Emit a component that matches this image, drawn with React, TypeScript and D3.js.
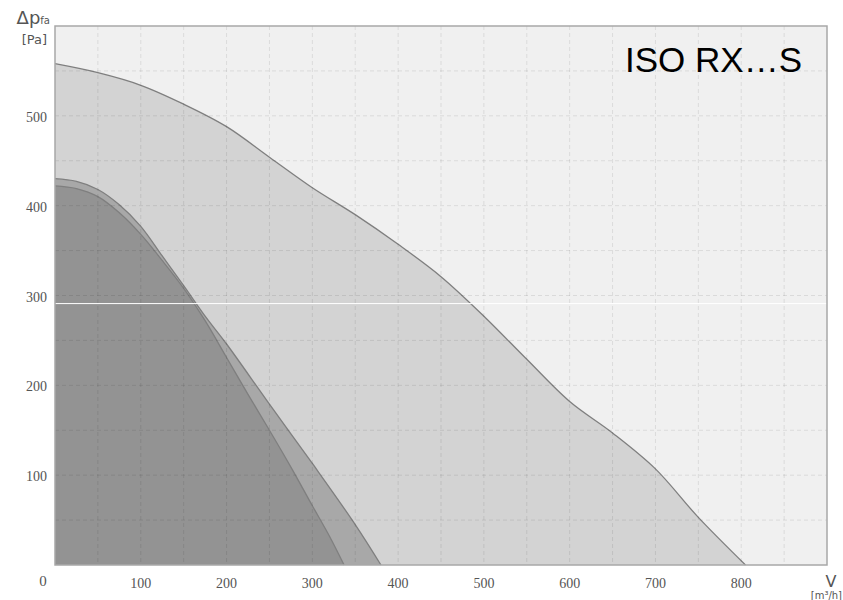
import React from 'react'
import * as d3 from 'd3'

// fan curves (flow m3/h, pressure Pa)
const curveAx = [0, 50, 100, 150, 200, 250, 300, 350, 400, 450, 500, 550, 600, 650, 700, 750, 805]
const curveAy = [558, 548, 534, 513, 488, 454, 420, 390, 357, 321, 277, 229, 182, 147, 107, 53, 0]

const curveBx = [0, 25, 50, 75, 100, 125, 150, 175, 200, 250, 300, 350, 380]
const curveBy = [430, 427, 418, 401, 377, 344, 311, 277, 246, 179, 113, 45, 0]

const curveCx = [0, 25, 50, 75, 100, 125, 150, 175, 200, 225, 250, 275, 300, 320, 337]
const curveCy = [422, 419, 410, 392, 368, 339, 308, 272, 231, 190, 150, 109, 66, 32, 0]

const xTicks = [100, 200, 300, 400, 500, 600, 700, 800]
const yTicks = [100, 200, 300, 400, 500]
const xGrid = d3.range(50, 900, 50)
const yGrid = d3.range(50, 600, 50)

const W = 843
const H = 600
const margin = { top: 26, right: 16, bottom: 35, left: 55 }

export default function App() {
  const x = d3.scaleLinear().domain([0, 900]).range([margin.left, W - margin.right])
  const y = d3.scaleLinear().domain([0, 600]).range([H - margin.bottom, margin.top])

  const area = d3.area<[number, number]>()
    .x(d => x(d[0]))
    .y0(y(0))
    .y1(d => y(d[1]))
    .curve(d3.curveCatmullRom)
  const line = d3.line<[number, number]>()
    .x(d => x(d[0]))
    .y(d => y(d[1]))
    .curve(d3.curveCatmullRom)

  const series = [
    { xs: curveAx, ys: curveAy, fill: '#d3d3d3' },
    { xs: curveBx, ys: curveBy, fill: '#a8a8a8' },
    { xs: curveCx, ys: curveCy, fill: '#939393' },
  ].map(s => ({ ...s, pts: s.xs.map((v, i) => [v, s.ys[i]] as [number, number]) }))

  const font = 'Liberation Serif, serif'
  const sans = 'DejaVu Sans, sans-serif'
  const x0 = x(0), x1 = x(900), y0 = y(0), y1 = y(600)

  return (
    <div>
      <style>{'body{margin:0}'}</style>
      <svg width={W} height={H} style={{ display: 'block', background: '#fff' }}>
        <rect x={x0} y={y1} width={x1 - x0} height={y0 - y1} fill="#f0f0f0" />
        {series.map((s, i) => (
          <g key={i}>
            <path d={area(s.pts) || ''} fill={s.fill} />
            <path d={line(s.pts) || ''} fill="none" stroke="#7f7f7f" strokeWidth={1.3} />
          </g>
        ))}
        {/* dashed grid on top */}
        {xGrid.map(v => (
          <line key={'gx' + v} x1={x(v)} x2={x(v)} y1={y1} y2={y0}
            stroke="#000" strokeOpacity={0.09} strokeDasharray="4,3" />
        ))}
        {yGrid.map(v => (
          <line key={'gy' + v} x1={x0} x2={x1} y1={y(v)} y2={y(v)}
            stroke="#000" strokeOpacity={0.09} strokeDasharray="4,3" />
        ))}
        <line x1={x0} x2={x1} y1={y(291)} y2={y(291)} stroke="#fff" strokeWidth={1} />
        <rect x={x0} y={y1} width={x1 - x0} height={y0 - y1} fill="none" stroke="#a8a8a8" strokeWidth={1.5} />

        {yTicks.map(v => (
          <text key={'ty' + v} x={47} y={y(v) + 6} textAnchor="end" fontFamily={font}
            fontSize={14} fill="#555">{v}</text>
        ))}
        {xTicks.map(v => (
          <text key={'tx' + v} x={x(v)} y={588} textAnchor="middle" fontFamily={font}
            fontSize={14} fill="#555">{v}</text>
        ))}
        <text x={43} y={586} textAnchor="middle" fontFamily={font} fontSize={15} fill="#555">0</text>

        <text x={50} y={24} textAnchor="end" fontFamily={sans} fill="#555">
          <tspan fontSize={18}>Δp</tspan>
          <tspan fontSize={10}>fa</tspan>
        </text>
        <text x={47} y={44} textAnchor="end" fontFamily={sans} fontSize={13} fill="#555">[Pa]</text>

        <text x={831} y={587} textAnchor="middle" fontFamily={sans} fontSize={16} fill="#555">V</text>
        <text x={842} y={599} textAnchor="end" fontFamily={sans} fontSize={10} fill="#555">[m³/h]</text>

        <text x={802} y={72} textAnchor="end" fontFamily="Liberation Sans, Arial, sans-serif"
          fontSize={35} fill="#000">ISO RX…S</text>
      </svg>
    </div>
  )
}
